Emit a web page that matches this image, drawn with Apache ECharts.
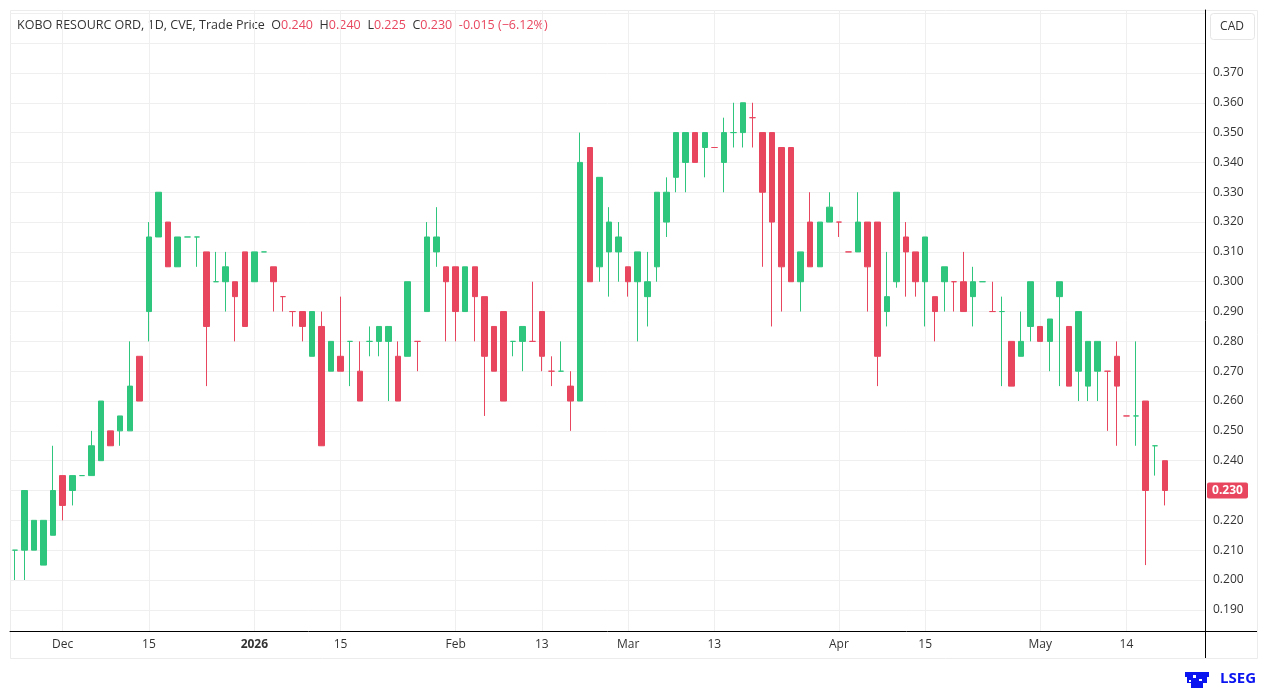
<!DOCTYPE html>
<html>
<head>
<meta charset="utf-8">
<script src="https://cdn.jsdelivr.net/npm/echarts@6/dist/echarts.min.js"></script>
<style>
html, body { margin: 0; padding: 0; background: #fff; }
#main { width: 1266px; height: 689px; }
</style>
</head>
<body>
<div id="main"></div>
<script>
// daily OHLC (CAD)
var openP = [
  0.21, 0.21, 0.21, 0.205, 0.215, 0.235, 0.23, 0.235, 0.235, 0.24,
  0.25, 0.25, 0.25, 0.275, 0.29, 0.315, 0.32, 0.305, 0.315, 0.315,
  0.31, 0.30, 0.30, 0.30, 0.31, 0.30, 0.31, 0.305, 0.295, 0.29,
  0.29, 0.275, 0.285, 0.27, 0.275, 0.28, 0.27, 0.28, 0.28, 0.28,
  0.275, 0.275, 0.28, 0.29, 0.31, 0.305, 0.305, 0.29, 0.305, 0.295,
  0.285, 0.29, 0.28, 0.28, 0.28, 0.29, 0.27, 0.27, 0.265, 0.26,
  0.345, 0.305, 0.31, 0.31, 0.305, 0.30, 0.295, 0.305, 0.32, 0.335,
  0.34, 0.35, 0.345, 0.345, 0.34, 0.35, 0.35, 0.355, 0.35, 0.35,
  0.345, 0.345, 0.30, 0.32, 0.305, 0.32, 0.32, 0.31, 0.31, 0.32,
  0.32, 0.29, 0.30, 0.315, 0.31, 0.30, 0.295, 0.30, 0.30, 0.30,
  0.295, 0.30, 0.29, 0.29, 0.28, 0.275, 0.285, 0.285, 0.28, 0.295,
  0.285, 0.27, 0.265, 0.27, 0.27, 0.275, 0.255, 0.255, 0.26, 0.245,
  0.24
];
var highP = [
  0.21, 0.23, 0.22, 0.22, 0.245, 0.235, 0.235, 0.235, 0.25, 0.26,
  0.25, 0.255, 0.28, 0.275, 0.32, 0.33, 0.32, 0.315, 0.315, 0.315,
  0.31, 0.31, 0.31, 0.30, 0.31, 0.31, 0.31, 0.305, 0.295, 0.29,
  0.29, 0.29, 0.29, 0.28, 0.295, 0.28, 0.28, 0.285, 0.285, 0.285,
  0.28, 0.30, 0.28, 0.32, 0.325, 0.305, 0.305, 0.305, 0.305, 0.295,
  0.285, 0.29, 0.28, 0.285, 0.30, 0.29, 0.275, 0.28, 0.27, 0.35,
  0.345, 0.335, 0.325, 0.32, 0.305, 0.31, 0.31, 0.33, 0.335, 0.35,
  0.35, 0.35, 0.35, 0.345, 0.355, 0.36, 0.36, 0.36, 0.35, 0.35,
  0.345, 0.345, 0.31, 0.33, 0.32, 0.33, 0.32, 0.31, 0.33, 0.32,
  0.32, 0.31, 0.33, 0.32, 0.31, 0.315, 0.295, 0.305, 0.30, 0.31,
  0.305, 0.30, 0.30, 0.295, 0.28, 0.29, 0.30, 0.285, 0.2875, 0.30,
  0.285, 0.29, 0.28, 0.28, 0.27, 0.28, 0.255, 0.28, 0.26, 0.245,
  0.24
];
var lowP = [
  0.20, 0.20, 0.21, 0.205, 0.215, 0.22, 0.225, 0.235, 0.235, 0.24,
  0.245, 0.245, 0.25, 0.26, 0.28, 0.315, 0.305, 0.305, 0.315, 0.305,
  0.265, 0.30, 0.29, 0.28, 0.285, 0.30, 0.31, 0.29, 0.29, 0.285,
  0.28, 0.275, 0.245, 0.27, 0.27, 0.265, 0.26, 0.275, 0.275, 0.26,
  0.26, 0.275, 0.27, 0.29, 0.305, 0.28, 0.28, 0.29, 0.28, 0.255,
  0.27, 0.26, 0.275, 0.27, 0.28, 0.27, 0.265, 0.27, 0.25, 0.26,
  0.30, 0.30, 0.295, 0.30, 0.295, 0.28, 0.285, 0.30, 0.315, 0.33,
  0.33, 0.34, 0.335, 0.345, 0.33, 0.345, 0.345, 0.345, 0.305, 0.285,
  0.29, 0.30, 0.29, 0.305, 0.305, 0.32, 0.315, 0.31, 0.31, 0.29,
  0.265, 0.285, 0.298, 0.295, 0.295, 0.285, 0.28, 0.29, 0.29, 0.29,
  0.285, 0.30, 0.29, 0.265, 0.265, 0.275, 0.28, 0.28, 0.27, 0.265,
  0.265, 0.26, 0.26, 0.26, 0.25, 0.245, 0.255, 0.245, 0.205, 0.235,
  0.225
];
var closeP = [
  0.21, 0.23, 0.22, 0.22, 0.23, 0.225, 0.235, 0.235, 0.245, 0.26,
  0.245, 0.255, 0.265, 0.26, 0.315, 0.33, 0.305, 0.315, 0.315, 0.315,
  0.285, 0.30, 0.305, 0.295, 0.285, 0.31, 0.31, 0.30, 0.295, 0.29,
  0.285, 0.29, 0.245, 0.28, 0.27, 0.28, 0.26, 0.28, 0.285, 0.285,
  0.26, 0.30, 0.28, 0.315, 0.315, 0.30, 0.29, 0.305, 0.295, 0.275,
  0.27, 0.26, 0.28, 0.285, 0.28, 0.275, 0.27, 0.27, 0.26, 0.34,
  0.30, 0.335, 0.32, 0.315, 0.30, 0.31, 0.30, 0.33, 0.33, 0.35,
  0.35, 0.34, 0.35, 0.345, 0.35, 0.35, 0.36, 0.355, 0.33, 0.32,
  0.305, 0.30, 0.31, 0.305, 0.32, 0.325, 0.32, 0.31, 0.32, 0.305,
  0.275, 0.295, 0.33, 0.31, 0.30, 0.315, 0.29, 0.305, 0.30, 0.29,
  0.30, 0.30, 0.29, 0.29, 0.265, 0.28, 0.30, 0.28, 0.2875, 0.30,
  0.265, 0.29, 0.28, 0.28, 0.27, 0.265, 0.255, 0.255, 0.23, 0.245,
  0.23
];

// date labels sit on these candle indexes
var tickIdx = [5, 14, 25, 34, 46, 55, 64, 73, 86, 95, 107, 116];
var tickText = ['Dec', '15', '2026', '15', 'Feb', '13', 'Mar', '13', 'Apr', '15', 'May', '14'];
var priceTicks = [0.19, 0.20, 0.21, 0.22, 0.23, 0.24, 0.25, 0.26, 0.27, 0.28,
                  0.29, 0.30, 0.31, 0.32, 0.33, 0.34, 0.35, 0.36, 0.37];

var UP = '#2ec57d', DOWN = '#e8465f';
var FONT = 'Open Sans';

var candles = [];
for (var i = 0; i < openP.length; i++) {
  candles.push([i, openP[i], closeP[i], lowP[i], highP[i]]);
}
var lastClose = closeP[closeP.length - 1];

var chart = echarts.init(document.getElementById('main'));

var option = {
  animation: false,
  backgroundColor: '#fff',
  textStyle: { fontFamily: FONT },
  grid: { left: 10, right: 61, top: 10, bottom: 58 },
  xAxis: {
    type: 'value',
    min: -0.5,
    max: 124.2,
    axisLine: { show: true, onZero: false, lineStyle: { color: '#000', width: 1 } },
    axisTick: { show: false, customValues: tickIdx },
    axisLabel: {
      customValues: tickIdx,
      color: '#333',
      fontSize: 12,
      fontFamily: FONT,
      margin: 8,
      formatter: function (v) {
        var k = tickIdx.indexOf(Math.round(v));
        if (k < 0) return '';
        return tickText[k] === '2026' ? '{b|2026}' : tickText[k];
      },
      rich: { b: { fontWeight: 'bold', color: '#333', fontSize: 12, fontFamily: FONT } }
    },
    splitLine: { show: true, lineStyle: { color: '#efefef', width: 1 } }
  },
  yAxis: {
    type: 'value',
    position: 'right',
    scale: true,
    min: 0.1829,
    max: 0.3911,
    axisLine: { show: true, onZero: false, lineStyle: { color: '#000', width: 1 } },
    axisTick: { show: false, customValues: priceTicks.concat([0.38, 0.39]) },
    axisLabel: {
      customValues: priceTicks,
      color: '#333',
      fontSize: 12,
      fontFamily: FONT,
      margin: 8,
      formatter: function (v) { return v.toFixed(3); }
    },
    splitLine: { show: true, lineStyle: { color: '#efefef', width: 1 } }
  },
  series: [{
    type: 'candlestick',
    data: candles,
    encode: { x: 0, y: [1, 2, 3, 4] },
    barWidth: 6,
    itemStyle: {
      color: UP,
      color0: DOWN,
      borderColor: UP,
      borderColor0: DOWN,
      borderWidth: 1
    }
  }],
  graphic: [
    { type: 'rect', silent: true, z: -1,
      shape: { x: 10.5, y: 10.5, width: 1247, height: 648 },
      style: { fill: 'none', stroke: '#ececec', lineWidth: 1 } },
    { type: 'line', silent: true,
      shape: { x1: 1205, y1: 631.5, x2: 1257, y2: 631.5 },
      style: { stroke: '#000', lineWidth: 1 } },
    { type: 'line', silent: true,
      shape: { x1: 1205.5, y1: 631, x2: 1205.5, y2: 658 },
      style: { stroke: '#000', lineWidth: 1 } },
    { type: 'rect', silent: true,
      shape: { x: 1210.5, y: 13.5, width: 44, height: 26, r: 3 },
      style: { fill: '#fff', stroke: '#e6e6e6', lineWidth: 1 } },
    { type: 'text', silent: true, x: 1232, y: 27,
      style: { text: 'CAD', fill: '#333', font: '12px "Open Sans"', align: 'center', verticalAlign: 'middle' } },
    { type: 'text', silent: true, x: 17, y: 25,
      style: {
        text: '{k|KOBO RESOURC ORD, 1D, CVE, Trade Price}  {k|O}{v|0.240}  {k|H}{v|0.240}  {k|L}{v|0.225}  {k|C}{v|0.230}  {v|-0.015 (\u22126.12%)}',
        verticalAlign: 'middle',
        rich: {
          k: { fill: '#333', font: '12.5px "Open Sans"' },
          v: { fill: DOWN, font: '12.5px "Open Sans"' }
        }
      } },
    { type: 'text', silent: true, x: 1256, y: 679,
      style: { text: 'LSEG', fill: '#0a14f0', font: 'bold 15px "Open Sans"', align: 'right', verticalAlign: 'middle' } },
    { type: 'group', silent: true, x: 1183, y: 670, children: [
      { type: 'rect', shape: { x: 2, y: 2, width: 24, height: 5 }, style: { fill: '#0a14f0' } },
      { type: 'rect', shape: { x: 4, y: 7, width: 20, height: 6 }, style: { fill: '#0a14f0' } },
      { type: 'rect', shape: { x: 8, y: 13, width: 12, height: 5 }, style: { fill: '#0a14f0' } },
      { type: 'rect', shape: { x: 10, y: 5, width: 3, height: 3 }, style: { fill: '#fff' } },
      { type: 'rect', shape: { x: 16, y: 9, width: 3, height: 2 }, style: { fill: '#fff' } },
      { type: 'rect', shape: { x: 6, y: 10, width: 2, height: 2 }, style: { fill: '#fff' } }
    ] }
  ]
};

chart.setOption(option);

// last price tag on the right axis
var tagY = chart.convertToPixel({ yAxisIndex: 0 }, lastClose);
chart.setOption({
  graphic: option.graphic.concat([
    { type: 'rect', silent: true, z: 10,
      shape: { x: 1207, y: tagY - 8, width: 41, height: 16, r: 2 },
      style: { fill: DOWN } },
    { type: 'text', silent: true, z: 11, x: 1227.5, y: tagY,
      style: { text: lastClose.toFixed(3), fill: '#fff', font: 'bold 12px "Open Sans"', align: 'center', verticalAlign: 'middle' } }
  ])
});

window.onresize = chart.resize;
</script>
</body>
</html>
